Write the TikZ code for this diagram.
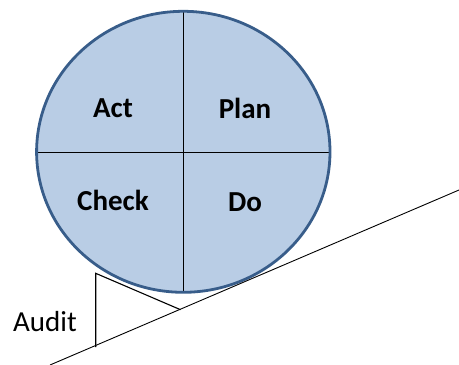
\documentclass[tikz,border=0pt]{standalone}
\usepackage{fontspec}
\setmainfont{Carlito}
\definecolor{fillblue}{RGB}{185,205,229}
\definecolor{edgeblue}{RGB}{56,93,138}
\begin{document}
\begin{tikzpicture}[x=1pt,y=-1pt,
  quad/.style={font=\fontsize{29}{32}\selectfont\bfseries},
  lbl/.style={font=\fontsize{29}{32}\selectfont},
  thin line/.style={draw=black,line width=1.1pt}]
\useasboundingbox (0,0) rectangle (459,365);
% wheel
\coordinate (c) at (183.3,151.8);
\fill[fillblue] (c) ellipse [x radius=146.7, y radius=140.5];
\draw[thin line] (183.3,11.3) -- (183.3,292.3);
\draw[thin line] (36.6,152.3) -- (330,152.3);
\draw[edgeblue,line width=2.8pt] (c) ellipse [x radius=146.7, y radius=140.5];
% labels
\node[quad] (act) at (113,108) {Act};
\node[quad] (plan) at (245,108) {Plan};
\node[quad] (check) at (113,200) {Check};
\node[quad] (do) at (245,202) {Do};
% slope
\coordinate (s0) at (50,365);
\coordinate (s1) at (459,190);
\draw[black,line width=0.9pt] (s0) -- (s1);
% audit wedge
\coordinate (w0) at (95.7,347);
\coordinate (w1) at (95.7,273.3);
\coordinate (w2) at (180.5,309.7);
\draw[black,line width=1.1pt] (w0) -- (w1) -- (w2);
\node[lbl] (audit) at (45,322) {Audit};
\end{tikzpicture}
\end{document}
